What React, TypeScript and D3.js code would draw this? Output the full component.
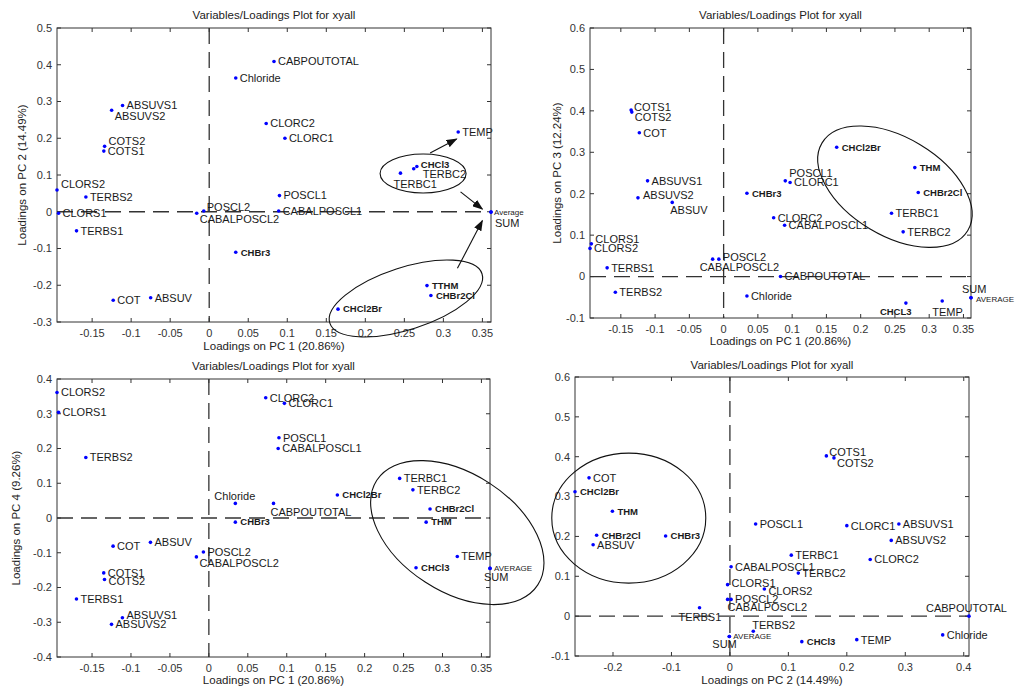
import * as d3 from "d3";

// loadings per variable
const variables = [
  "CABPOUTOTAL", "Chloride", "ABSUVS1", "ABSUVS2", "COTS1", "COTS2", "COT", "ABSUV",
  "CLORS1", "CLORS2", "TERBS1", "TERBS2", "CLORC1", "CLORC2", "POSCL1", "POSCL2",
  "CABALPOSCL1", "CABALPOSCL2", "TERBC1", "TERBC2", "CHCl3", "CHBr3", "CHCl2Br",
  "CHBr2Cl", "THM", "TEMP", "AVERAGE", "SUM",
];
const pc1 = [0.083, 0.034, -0.111, -0.125, -0.135, -0.134, -0.123, -0.075,
  -0.193, -0.195, -0.170, -0.158, 0.097, 0.073, 0.090, -0.007,
  0.089, -0.016, 0.245, 0.262, 0.266, 0.034, 0.165,
  0.284, 0.279, 0.319, 0.361, 0.361];
const pc2 = [0.409, 0.364, 0.289, 0.276, 0.165, 0.178, -0.241, -0.234,
  -0.004, 0.059, -0.052, 0.040, 0.200, 0.240, 0.044, 0.002,
  0.002, -0.004, 0.105, 0.117, 0.123, -0.110, -0.265,
  -0.228, -0.201, 0.217, -0.001, -0.001];
const pc3 = [0.000, -0.047, 0.231, 0.190, 0.402, 0.397, 0.347, 0.179,
  0.079, 0.068, 0.021, -0.038, 0.227, 0.142, 0.231, 0.042,
  0.124, 0.042, 0.153, 0.108, -0.064, 0.201, 0.312,
  0.203, 0.263, -0.059, -0.051, -0.051];
const pc4 = [0.042, 0.042, -0.287, -0.306, -0.158, -0.177, -0.081, -0.070,
  0.304, 0.361, -0.233, 0.174, 0.330, 0.346, 0.231, -0.098,
  0.200, -0.112, 0.114, 0.081, -0.143, -0.012, 0.066,
  0.026, -0.012, -0.111, -0.145, -0.145];

const boldVars = ["CHCl3", "CHBr3", "CHCl2Br", "CHBr2Cl", "THM"];
const smallVars = ["AVERAGE"];

const ticksPC1 = [-0.15, -0.1, -0.05, 0, 0.05, 0.1, 0.15, 0.2, 0.25, 0.3, 0.35];
const ticksPC2 = [-0.2, -0.1, 0, 0.1, 0.2, 0.3, 0.4];
const ticksY1 = [-0.3, -0.2, -0.1, 0, 0.1, 0.2, 0.3, 0.4, 0.5];
const ticksY2 = [-0.1, 0, 0.1, 0.2, 0.3, 0.4, 0.5, 0.6];
const ticksY3 = [-0.4, -0.3, -0.2, -0.1, 0, 0.1, 0.2, 0.3, 0.4];

const TITLE = "Variables/Loadings Plot for xyall";
const FONT = "'Liberation Sans', Arial, sans-serif";

// label nudges [dx, dy] in px, default is just right of the dot
const offsets1 = {
  ABSUVS2: [3, 6], COTS2: [4, -5], CHCl3: [4, -2], TERBC2: [9, 5], TERBC1: [-7, 11],
  CLORS2: [4, -6], POSCL2: [3, -4], CABALPOSCL2: [3, 6], AVERAGE: [3, 0], SUM: [4, 11],
};
const offsets2 = {
  COTS1: [3, -3], COTS2: [3, 5], POSCL1: [4, -8], ABSUVS2: [5, -3], ABSUV: [-2, 8],
  CLORS1: [4, -5], POSCL2: [4, -2], CABALPOSCL2: [-13, 8], CHCl3: [-26, 9],
  TEMP: [-10, 11], SUM: [-9, -9], AVERAGE: [5, 1],
};
const offsets3 = {
  Chloride: [-21, -7], CABPOUTOTAL: [-3, 9], CABALPOSCL2: [3, 6], SUM: [-6, 9],
  COTS2: [4, 2], ABSUVS1: [4, -3], AVERAGE: [4, 0],
};
const offsets4 = {
  COTS1: [3, -4], COTS2: [3, 5], CLORS2: [4, 2], CABALPOSCL2: [0, 8], TERBS1: [-21, 9],
  CABPOUTOTAL: [-43, -8], TERBS2: [-1, -6], AVERAGE: [4, 0], SUM: [-17, 8], CLORS1: [4, -2],
};

const panels = [
  {
    xs: pc1, ys: pc2, xTicks: ticksPC1, yTicks: ticksY1, yDomain: [-0.3, 0.5],
    box: { l: 57, t: 28, r: 491, b: 322 }, titleY: 19, xLabelY: 350, yLabelX: 22,
    xLabel: "Loadings on PC 1 (20.86%)", yLabel: "Loadings on PC 2 (14.49%)",
    names: { THM: "TTHM", AVERAGE: "Average" }, offsets: offsets1,
    ellipses: [
      { cx: 0.274, cy: 0.104, rx: 43, ry: 19.5, rot: 0 },
      { cx: 0.252, cy: -0.236, rx: 80, ry: 31, rot: -18 },
    ],
    arrows: [
      [0.283, 0.160, 0.317, 0.198],
      [0.322, 0.054, 0.350, 0.007],
      [0.318, -0.154, 0.350, -0.024],
    ],
  },
  {
    xs: pc1, ys: pc3, xTicks: ticksPC1, yTicks: ticksY2, yDomain: [-0.1, 0.6],
    box: { l: 590, t: 28, r: 971, b: 318 }, titleY: 19, xLabelY: 345, yLabelX: 557,
    xLabel: "Loadings on PC 1 (20.86%)", yLabel: "Loadings on PC 3 (12.24%)",
    names: { CHCl3: "CHCL3" }, offsets: offsets2,
    ellipses: [{ cx: 0.250, cy: 0.217, rx: 85, ry: 49, rot: 31 }],
    arrows: [],
  },
  {
    xs: pc1, ys: pc4, xTicks: ticksPC1, yTicks: ticksY3, yDomain: [-0.4, 0.4],
    box: { l: 57, t: 379, r: 490, b: 657 }, titleY: 370, xLabelY: 684, yLabelX: 16,
    xLabel: "Loadings on PC 1 (20.86%)", yLabel: "Loadings on PC 4 (9.26%)",
    names: {}, offsets: offsets3,
    ellipses: [{ cx: 0.319, cy: -0.042, rx: 96, ry: 59, rot: 33 }],
    arrows: [],
  },
  {
    xs: pc2, ys: pc3, xTicks: ticksPC2, yTicks: ticksY2, yDomain: [-0.1, 0.6],
    box: { l: 575, t: 377, r: 969, b: 656 }, titleY: 369, xLabelY: 684, yLabelX: null,
    xLabel: "Loadings on PC 2 (14.49%)", yLabel: "",
    names: {}, offsets: offsets4,
    ellipses: [{ cx: -0.173, cy: 0.246, rx: 77, ry: 65, rot: 0 }],
    arrows: [],
  },
];

const fmt = (v) => String(+v.toFixed(2));

function Panel({ p }) {
  const { l, t, r, b } = p.box;
  const x = d3.scaleLinear().domain(d3.extent(p.xs)).range([l, r]);
  const y = d3.scaleLinear().domain(p.yDomain).range([b, t]);
  const axis = "#333";
  const tk = 4;

  return (
    <g fontFamily={FONT}>
      {/* title */}
      <text x={(l + r) / 2} y={p.titleY} textAnchor="middle" fontSize={11.5} fill="#222">
        {TITLE}
      </text>

      {/* zero lines */}
      <line x1={l} x2={r} y1={y(0)} y2={y(0)} stroke="#333" strokeWidth={1.3} strokeDasharray="16,8" />
      <line x1={x(0)} x2={x(0)} y1={t} y2={b} stroke="#333" strokeWidth={1.3} strokeDasharray="16,8" />

      {/* box and ticks */}
      <rect x={l} y={t} width={r - l} height={b - t} fill="none" stroke={axis} strokeWidth={1} />
      {p.xTicks.map((v) => (
        <g key={"x" + v}>
          <line x1={x(v)} x2={x(v)} y1={b} y2={b - tk} stroke={axis} />
          <line x1={x(v)} x2={x(v)} y1={t} y2={t + tk} stroke={axis} />
          <text x={x(v)} y={b + 15} textAnchor="middle" fontSize={11} fill="#333">{fmt(v)}</text>
        </g>
      ))}
      {p.yTicks.map((v) => (
        <g key={"y" + v}>
          <line x1={l} x2={l + tk} y1={y(v)} y2={y(v)} stroke={axis} />
          <line x1={r} x2={r - tk} y1={y(v)} y2={y(v)} stroke={axis} />
          <text x={l - 5} y={y(v)} dy="0.35em" textAnchor="end" fontSize={11} fill="#333">{fmt(v)}</text>
        </g>
      ))}

      {/* axis labels */}
      <text x={(l + r) / 2} y={p.xLabelY} textAnchor="middle" fontSize={11.5} fill="#222">{p.xLabel}</text>
      {p.yLabelX !== null && (
        <text
          transform={`translate(${p.yLabelX},${(t + b) / 2}) rotate(-90)`}
          dy="0.35em" textAnchor="middle" fontSize={11.5} fill="#222"
        >
          {p.yLabel}
        </text>
      )}

      {/* points and labels */}
      {variables.map((name, i) => {
        const px = x(p.xs[i]);
        const py = y(p.ys[i]);
        const bold = boldVars.includes(name);
        const small = smallVars.includes(name);
        const off = p.offsets[name] || [bold ? 5 : 4, 0];
        return (
          <g key={name}>
            <circle cx={px} cy={py} r={1.8} fill="#0000ff" />
            <text
              x={px + off[0]} y={py + off[1]} dy="0.35em"
              fontSize={bold ? 9.5 : small ? 8 : 11}
              fontWeight={bold ? "bold" : "normal"}
              fill="#1a1a1a"
            >
              {p.names[name] || name}
            </text>
          </g>
        );
      })}

      {/* annotations */}
      {p.ellipses.map((e, i) => (
        <ellipse
          key={"e" + i}
          cx={0} cy={0} rx={e.rx} ry={e.ry}
          transform={`translate(${x(e.cx)},${y(e.cy)}) rotate(${e.rot})`}
          fill="none" stroke="#111" strokeWidth={1.1}
        />
      ))}
      {p.arrows.map((a, i) => (
        <line
          key={"a" + i}
          x1={x(a[0])} y1={y(a[1])} x2={x(a[2])} y2={y(a[3])}
          stroke="#111" strokeWidth={1.1} markerEnd="url(#arrowhead)"
        />
      ))}
    </g>
  );
}

export default function App() {
  return (
    <svg
      width={1017}
      height={689}
      style={{ position: "absolute", left: 0, top: 0, background: "#fff" }}
    >
      <defs>
        <marker
          id="arrowhead" markerUnits="userSpaceOnUse" markerWidth={11} markerHeight={8}
          refX={10} refY={4} orient="auto"
        >
          <path d="M0,0 L11,4 L0,8 z" fill="#111" />
        </marker>
      </defs>
      <rect width={1017} height={689} fill="#fff" />
      {panels.map((p, i) => (
        <Panel key={i} p={p} />
      ))}
    </svg>
  );
}
